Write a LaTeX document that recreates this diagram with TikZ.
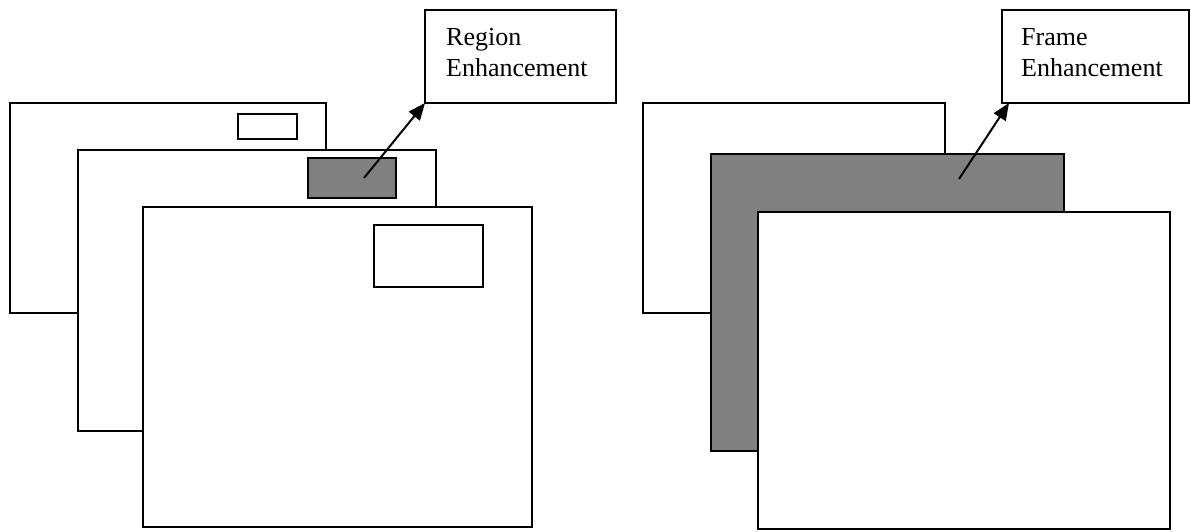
\documentclass[tikz,border=0pt]{standalone}
\usepackage{fontspec}
\setmainfont{Liberation Serif}
\usetikzlibrary{arrows.meta}
\definecolor{framegray}{HTML}{808080}
\tikzset{
  frm/.style={draw=black, line width=2pt, fill=white, inner sep=0pt, outer sep=0pt, anchor=north west},
  grayfrm/.style={frm, fill=framegray},
  lbl/.style={frm},
  txt/.style={inner sep=0pt, anchor=base west, font=\fontsize{26}{30}\selectfont},
  pointer/.style={line width=2pt, -{Triangle[length=17pt,width=14pt]}}
}
\begin{document}
\begin{tikzpicture}[x=1pt,y=-1pt]
\useasboundingbox (0,0) rectangle (1191,531);
% ---------- left: region enhancement ----------
\node[frm, minimum width=316pt, minimum height=210pt] (lback) at (10,103) {};
\node[frm, minimum width=59pt, minimum height=25pt] (lbacksmall) at (238,114) {};
\node[frm, minimum width=358pt, minimum height=281pt] (lmid) at (78,150) {};
\node[grayfrm, minimum width=88pt, minimum height=40pt] (lmidgray) at (308,158) {};
\node[frm, minimum width=389pt, minimum height=320pt] (lfront) at (143,207) {};
\node[frm, minimum width=109pt, minimum height=62pt] (lfrontsmall) at (374,225) {};
\node[lbl, minimum width=191pt, minimum height=93pt] (rbox) at (425,10) {};
\node[txt] (rt1) at (446,45) {Region};
\node[txt] (rt2) at (446,76) {Enhancement};
\coordinate (rs) at (364,178);
\draw[pointer] (rs) -- (rbox.south west);
% ---------- right: frame enhancement ----------
\node[frm, minimum width=302pt, minimum height=210pt] (rback) at (643,103) {};
\node[grayfrm, minimum width=353pt, minimum height=297pt] (rmid) at (711,154) {};
\node[frm, minimum width=412pt, minimum height=317pt] (rfront) at (758,212) {};
\node[lbl, minimum width=187pt, minimum height=93pt] (fbox) at (1002,10) {};
\node[txt] (ft1) at (1021,45) {Frame};
\node[txt] (ft2) at (1021,76) {Enhancement};
\coordinate (fs) at (959,179);
\draw[pointer] (fs) -- ([xshift=7pt]fbox.south west);
\end{tikzpicture}
\end{document}
